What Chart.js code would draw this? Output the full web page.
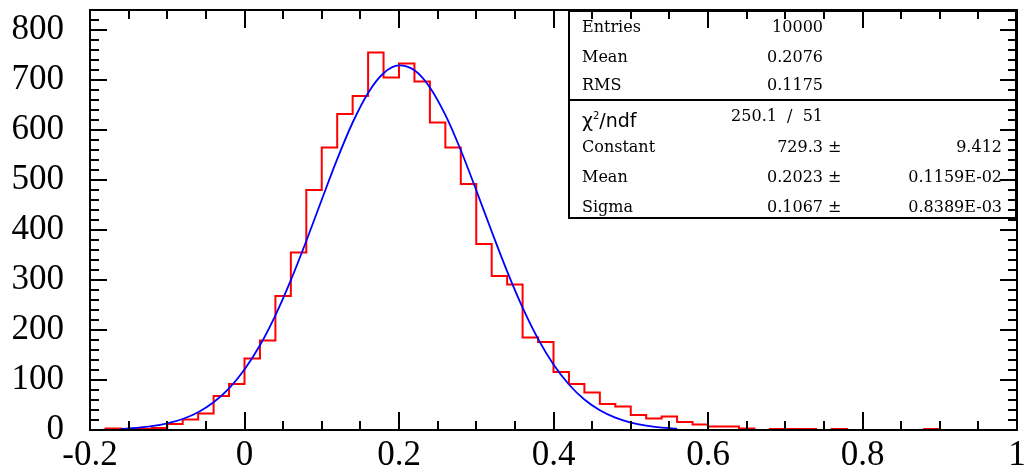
<!DOCTYPE html>
<html lang="en">
<head>
<meta charset="UTF-8" />
<title>Histogram with Gaussian fit</title>
<script src="https://cdn.jsdelivr.net/npm/chart.js"></script>
<style>
  * { margin: 0; padding: 0; box-sizing: border-box; }
  html, body { background: #fff; width: 1027px; height: 474px; overflow: hidden; }
  .wrap { position: relative; width: 1027px; height: 474px; }
  .stats {
    position: absolute; left: 568px; top: 10px; width: 449px; height: 209px;
    border: 2px solid #000; color: #000;
    font-family: 'DejaVu Serif', serif; font-size: 16px;
  }
  .stats .sep { position: absolute; left: 0; right: 0; top: 87px; border-top: 2px solid #000; }
  .stats span { position: absolute; line-height: 20px; height: 20px; white-space: pre; }
  .stats .chi { font-family: 'DejaVu Sans', sans-serif; font-size: 19px; }
  .stats .chi sup { font-size: 10px; vertical-align: 8px; }
</style>
</head>
<body>
<div class="wrap">
  <canvas id="histChart"></canvas>
  <div class="stats" id="stats"><div class="sep"></div></div>
</div>
<script>
  // histogram: 60 bins of 0.02 from -0.2 to 1.0
  const binStart = -0.2;
  const binWidth = 0.02;
  const counts = [
    0, 3, 2, 2, 4, 12, 21, 33, 68, 92,
    143, 179, 268, 355, 480, 565, 632, 668, 755, 705,
    733, 697, 615, 565, 492, 372, 308, 291, 185, 176,
    116, 92, 75, 52, 47, 30, 23, 27, 16, 11,
    7, 7, 3, 0, 2, 2, 2, 0, 2, 0,
    0, 0, 0, 0, 2, 0, 0, 0, 0, 0
  ];

  // fitted gaussian curve
  const fitX = [-0.16, -0.14, -0.12, -0.10, -0.08, -0.06, -0.04, -0.02, 0.00, 0.02,
    0.04, 0.06, 0.08, 0.10, 0.12, 0.14, 0.16, 0.18, 0.20, 0.22,
    0.24, 0.26, 0.28, 0.30, 0.32, 0.34, 0.36, 0.38, 0.40, 0.42,
    0.44, 0.46, 0.48, 0.50, 0.52, 0.54, 0.56];
  const fitY = [2.3, 4.3, 7.6, 13.2, 22.0, 35.5, 55.4, 83.2, 120.9, 169.4,
    229.3, 299.7, 378.1, 460.6, 541.7, 615.0, 674.2, 713.5, 729.1, 719.3,
    685.2, 630.1, 559.5, 479.6, 396.9, 317.2, 244.7, 182.3, 131.1, 91.0,
    61.0, 39.5, 24.7, 14.9, 8.7, 4.9, 2.6];

  const xMin = -0.2, xMax = 1.0, xStep = 0.2;
  const yMin = 0, yMax = 840, yStep = 100;

  // stats box text
  const statNames = ['Entries', 'Mean', 'RMS'];
  const statValues = ['10000', '0.2076', '0.1175'];
  const chi2 = '250.1', ndf = '51';
  const parNames = ['Constant', 'Mean', 'Sigma'];
  const parValues = ['729.3', '0.2023', '0.1067'];
  const parErrors = ['9.412', '0.1159E-02', '0.8389E-03'];

  const histPoints = counts.map((c, i) => ({ x: binStart + i * binWidth, y: c }));
  histPoints.push({ x: xMax, y: counts[counts.length - 1] });
  const fitPoints = fitX.map((x, i) => ({ x: x, y: fitY[i] }));

  // ROOT style frame with inward ticks on all four sides
  const rootFrame = {
    id: 'rootFrame',
    afterDatasetsDraw(chart) {
      const { ctx, chartArea: a, scales: { x, y } } = chart;
      ctx.save();
      ctx.strokeStyle = '#000';
      ctx.lineWidth = 2;
      ctx.strokeRect(a.left, a.top, a.right - a.left, a.bottom - a.top);
      ctx.beginPath();
      for (let i = 0; i <= 24; i++) {
        const px = Math.round(x.getPixelForValue(xMin + i * 0.05));
        const len = i % 4 === 0 ? 18 : 9;
        ctx.moveTo(px, a.bottom); ctx.lineTo(px, a.bottom - len);
        ctx.moveTo(px, a.top); ctx.lineTo(px, a.top + len);
      }
      for (let i = 0; i * 20 <= yMax; i++) {
        const py = Math.round(y.getPixelForValue(i * 20));
        const len = i % 5 === 0 ? 17 : 9;
        ctx.moveTo(a.left, py); ctx.lineTo(a.left + len, py);
        ctx.moveTo(a.right, py); ctx.lineTo(a.right - len, py);
      }
      ctx.stroke();
      ctx.restore();
    }
  };

  const labelFont = { family: "'Liberation Serif', serif", size: 35 };

  new Chart(document.getElementById('histChart'), {
    type: 'line',
    data: {
      datasets: [
        { label: 'gaus', data: fitPoints, borderColor: '#0000ff', borderWidth: 1.8,
          pointRadius: 0, cubicInterpolationMode: 'monotone', fill: false },
        { label: 'h1', data: histPoints, borderColor: '#ff0000', borderWidth: 2,
          pointRadius: 0, stepped: 'before', fill: false }
      ]
    },
    options: {
      responsive: true,
      maintainAspectRatio: false,
      animation: false,
      layout: { padding: { top: 10, right: 10, left: 0, bottom: 0 } },
      plugins: { legend: { display: false }, tooltip: { enabled: false } },
      scales: {
        x: {
          type: 'linear', min: xMin, max: xMax,
          grid: { display: false, drawTicks: false },
          border: { display: false },
          ticks: {
            stepSize: xStep, color: '#000', font: labelFont, padding: 5,
            maxRotation: 0, autoSkip: false,
            callback: v => String(+v.toFixed(1))
          },
          afterFit: s => {
            s.height = 44;
            s.paddingLeft = 0; s.paddingRight = 0; s.paddingTop = 0; s.paddingBottom = 0;
          }
        },
        y: {
          type: 'linear', min: yMin, max: yMax,
          grid: { display: false, drawTicks: false },
          border: { display: false },
          ticks: {
            stepSize: yStep, includeBounds: false, color: '#000', font: labelFont, padding: 26,
            callback: v => String(v)
          },
          afterFit: s => {
            s.width = 90;
            s.paddingLeft = 0; s.paddingRight = 0; s.paddingTop = 0; s.paddingBottom = 0;
          }
        }
      }
    },
    plugins: [rootFrame]
  });

  // stats box
  const box = document.getElementById('stats');
  function addText(html, opts, cls) {
    const s = document.createElement('span');
    s.innerHTML = html;
    if (cls) s.className = cls;
    s.style.top = (opts.cy - 10) + 'px';
    if (opts.left !== undefined) s.style.left = opts.left + 'px';
    if (opts.right !== undefined) s.style.right = opts.right + 'px';
    box.appendChild(s);
  }
  const topRows = [15, 45, 73];
  statNames.forEach((n, i) => {
    addText(n, { cy: topRows[i], left: 12 });
    addText(statValues[i], { cy: topRows[i], right: 192 });
  });
  addText('χ<sup>2</sup>/ndf', { cy: 104, left: 12 }, 'chi');
  addText(chi2 + '  /  ' + ndf, { cy: 104, right: 192 });
  const parRows = [135, 165, 195];
  parNames.forEach((n, i) => {
    addText(n, { cy: parRows[i], left: 12 });
    addText(parValues[i], { cy: parRows[i], right: 192 });
    addText('±', { cy: parRows[i], left: 258 });
    addText(parErrors[i], { cy: parRows[i], right: 13 });
  });
</script>
</body>
</html>
